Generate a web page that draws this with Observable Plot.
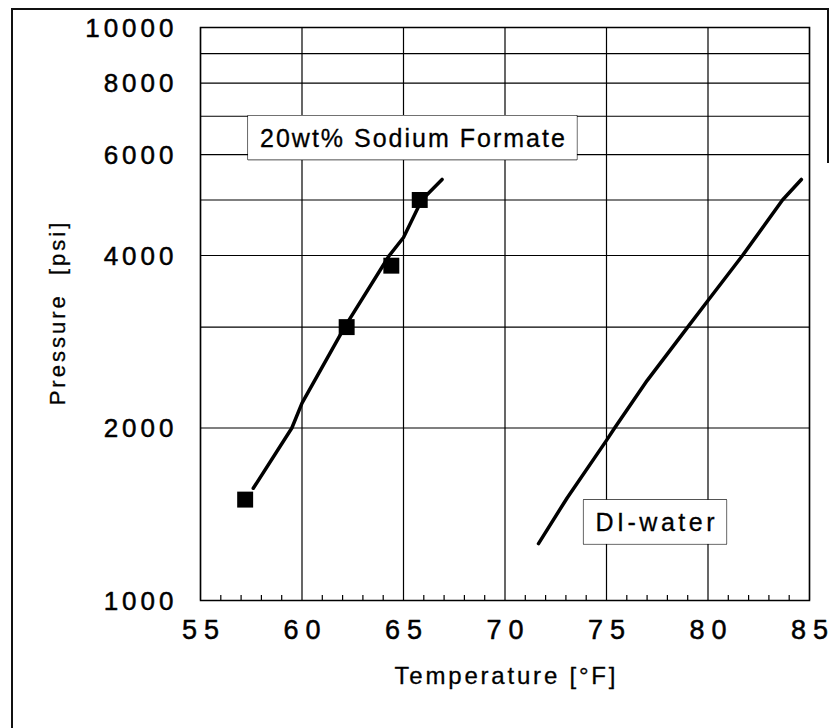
<!DOCTYPE html>
<html>
<head>
<meta charset="utf-8">
<script src="https://cdn.jsdelivr.net/npm/d3@7"></script>
<script src="https://cdn.jsdelivr.net/npm/@observablehq/plot@0.6"></script>
<style>
  body { margin: 0; background: #fff; }
  #wrap { position: relative; width: 830px; height: 728px; overflow: hidden; background: #fff; }
  .edge { position: absolute; background: #111; }
  svg text { white-space: pre; font-family: "Liberation Sans", Arial, sans-serif; }
</style>
</head>
<body>
<div id="wrap"></div>
<script>
// ---- data ----
const xTicks = [55, 60, 65, 70, 75, 80, 85];
const xMinorTicks = [56, 57, 58, 59, 61, 62, 63, 64, 66, 67, 68, 69, 71, 72, 73, 74, 76, 77, 78, 79, 81, 82, 83, 84];
const yGridValues = [1000, 2000, 3000, 4000, 5000, 6000, 7000, 8000, 9000, 10000];
const yTickLabels = [1000, 2000, 4000, 6000, 8000, 10000];

// 20wt% Sodium Formate hydrate curve
const formateCurveTemp     = [57.6, 59.5, 60.0, 62.1, 64.3, 65.0, 65.9, 66.9];
const formateCurvePressure = [1570, 2000, 2210, 3000, 4000, 4300, 5000, 5430];
// 20wt% Sodium Formate measured points
const formatePointTemp     = [57.2, 62.2, 64.4, 65.8];
const formatePointPressure = [1500, 3000, 3840, 5000];
// DI-water hydrate curve
const waterCurveTemp     = [71.65, 73.06, 75.0, 75.4, 77.0, 79.0, 80.0, 81.7, 83.67, 84.6];
const waterCurvePressure = [1257, 1510, 1903, 2000, 2420, 3000, 3339, 4000, 5000, 5430];
// annotations
const annotationText     = ["20wt% Sodium Formate", "DI-water"];
const annotationTemp     = [65.44, 77.39];
const annotationPressure = [6400, 1366];
const xTitle = "Temperature [°F]";
const yTitle = "Pressure  [psi]";

// ---- build tables ----
const formateCurve = formateCurveTemp.map((t, i) => ({t, p: formateCurvePressure[i]}));
const formatePoints = formatePointTemp.map((t, i) => ({t, p: formatePointPressure[i]}));
const waterCurve = waterCurveTemp.map((t, i) => ({t, p: waterCurvePressure[i]}));
const annotations = annotationText.map((s, i) => ({s, t: annotationTemp[i], p: annotationPressure[i]}));

const font = "Liberation Sans, Arial, sans-serif";
const thick = {fill: "#000", stroke: "#000", strokeWidth: 0.5};

const chart = Plot.plot({
  width: 830,
  height: 728,
  marginLeft: 200,
  marginRight: 21,
  marginTop: 27,
  marginBottom: 128,
  style: {background: "#fff", fontFamily: font, color: "#000", overflow: "visible"},
  x: {domain: [55, 85], axis: null},
  y: {type: "log", domain: [1000, 10000], axis: null},
  marks: [
    Plot.ruleY(yGridValues, {y: d => d, stroke: "#000", strokeWidth: 1.2}),
    Plot.ruleX(xTicks, {x: d => d, stroke: "#000", strokeWidth: 1.2}),
    Plot.ruleX(xMinorTicks, {x: d => d, stroke: "#000", strokeWidth: 1.2, insetTop: 568}),
    Plot.frame({stroke: "#000", strokeWidth: 1.5}),
    Plot.line(formateCurve, {x: "t", y: "p", stroke: "#000", strokeWidth: 3.5}),
    Plot.line(waterCurve, {x: "t", y: "p", stroke: "#000", strokeWidth: 3.5}),
    Plot.dot(formatePoints, {x: "t", y: "p", symbol: "square", r: 9, fill: "#000", stroke: "none"}),
    // text marks (letter spacing applied after render, in this order)
    Plot.text(annotations, {x: "t", y: "p", text: "s", fontSize: 25, fill: "#000", stroke: "#000", strokeWidth: 0.3}),
    Plot.text(yTickLabels, {y: d => d, text: d => String(d), frameAnchor: "left", textAnchor: "end", dx: -27, dy: 1, fontSize: 26, ...thick}),
    Plot.text(xTicks, {x: d => d, text: d => String(d), frameAnchor: "bottom", dy: 38, dx: 0, fontSize: 27, ...thick}),
    Plot.text([xTitle], {frameAnchor: "bottom", dy: 83, dx: 0, fontSize: 24, ...thick, strokeWidth: 0.3}),
    Plot.text([yTitle], {frameAnchor: "left", textAnchor: "middle", rotate: -90, dx: -143, dy: 0, fontSize: 22, ...thick, strokeWidth: 0.3})
  ]
});

const wrap = document.getElementById("wrap");
wrap.appendChild(chart);

// letter spacing per text mark (in mark order), applied between characters only
const ns = "http://www.w3.org/2000/svg";
const textGroups = chart.querySelectorAll('g[aria-label="text"]');
const spacing = [["2px", "3.5px"], ["4px"], ["7px"], ["2.8px"], ["3px"]];
textGroups.forEach((g, i) => {
  const s = spacing[i] || ["0px"];
  g.querySelectorAll("text").forEach((t, j) => {
    const str = t.textContent;
    if (str.length < 2) return;
    t.textContent = "";
    const a = document.createElementNS(ns, "tspan");
    a.textContent = str.slice(0, -1);
    a.style.letterSpacing = s[Math.min(j, s.length - 1)];
    const b = document.createElementNS(ns, "tspan");
    b.textContent = str.slice(-1);
    t.appendChild(a);
    t.appendChild(b);
  });
});

// white boxes behind annotation labels
if (textGroups[0]) textGroups[0].querySelectorAll("text").forEach(t => {
  const b = t.getBBox();
  const r = document.createElementNS(ns, "rect");
  const padX = 12, padY = 8;
  r.setAttribute("x", b.x - padX);
  r.setAttribute("y", b.y - padY);
  r.setAttribute("width", b.width + 2 * padX);
  r.setAttribute("height", b.height + 2 * padY);
  r.setAttribute("fill", "#fff");
  r.setAttribute("stroke", "#000");
  r.setAttribute("stroke-width", "1.2");
  if (t.getAttribute("transform")) r.setAttribute("transform", t.getAttribute("transform"));
  t.parentNode.insertBefore(r, t);
});

// scanned-page border
[[11, 8, 2, 720], [11, 8, 818, 2], [827, 8, 2, 155]].forEach(([l, tp, w, h]) => {
  const d = document.createElement("div");
  d.className = "edge";
  Object.assign(d.style, {left: l + "px", top: tp + "px", width: w + "px", height: h + "px"});
  wrap.appendChild(d);
});
</script>
</body>
</html>
